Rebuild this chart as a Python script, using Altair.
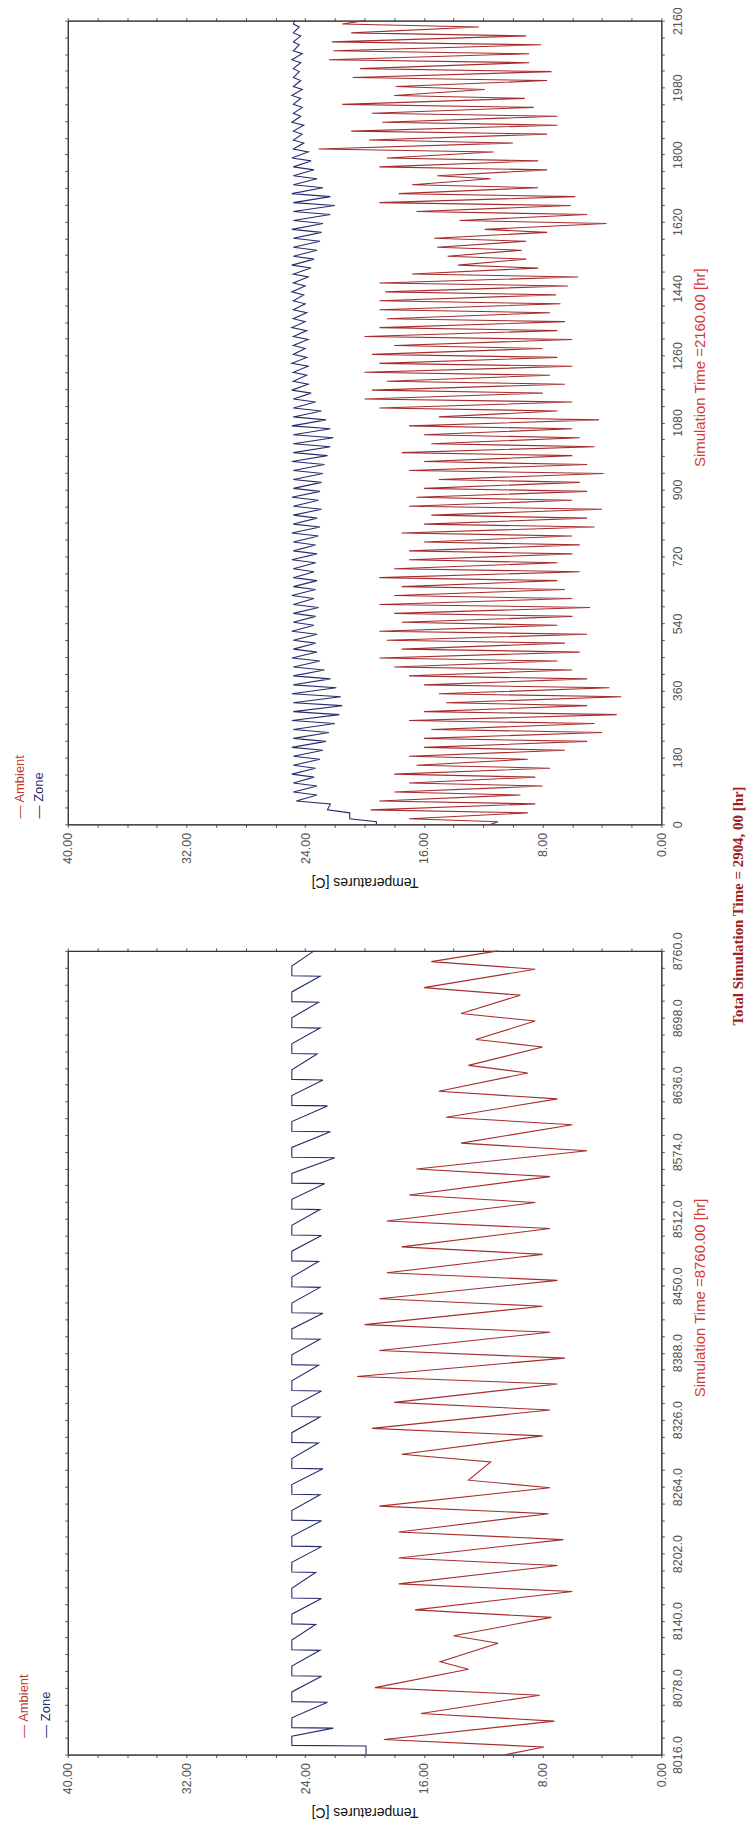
import altair as alt
import pandas as pd

# ---------------- data ----------------
# Panel 1: simulation hours 0 .. 2160 (90 days); daily cold trough / warm peak
amb1_start = 11.5
amb1_min = [11.0, 9.0, 8.5, 9.5, 8.0, 8.5, 7.5, 9.0, 6.5, 5.0,
            4.0, 4.5, 3.0, 5.0, 2.7, 3.5, 5.0, 6.0, 7.0, 5.5,
            6.5, 5.0, 7.0, 6.0, 4.8, 6.0, 6.5, 7.0, 5.5, 7.0,
            6.0, 5.5, 6.0, 4.5, 5.0, 4.0, 6.0, 5.0, 5.5, 3.9,
            5.0, 6.0, 4.5, 5.5, 6.0, 4.2, 7.0, 6.0, 8.0, 6.5,
            7.5, 6.0, 7.0, 8.0, 6.0, 7.0, 6.5, 7.5, 6.8, 7.1,
            6.3, 5.6, 8.3, 9.1, 9.4, 9.1, 7.7, 3.7, 5.0, 6.1,
            5.8, 8.3, 11.5, 7.7, 8.3, 11.3, 10.0, 7.7, 7.0, 7.0,
            8.6, 9.2, 11.9, 7.7, 7.4, 8.9, 8.9, 8.1, 9.1, 12.3]
amb1_max = [17.0, 19.6, 19.0, 18.0, 17.0, 18.0, 16.5, 17.0, 16.0, 16.0,
            15.5, 17.0, 16.0, 14.5, 15.0, 16.0, 17.0, 18.0, 19.0, 17.5,
            18.5, 19.0, 17.5, 18.0, 19.0, 18.0, 17.5, 19.0, 18.0, 17.0,
            17.0, 16.0, 17.5, 16.0, 15.5, 17.0, 16.5, 16.0, 15.0, 17.0,
            16.0, 17.5, 15.5, 16.0, 17.0, 15.0, 19.0, 20.0, 19.5, 18.5,
            20.0, 19.0, 19.5, 18.0, 20.0, 19.0, 18.5, 19.0, 19.0, 18.6,
            19.0, 16.8, 13.7, 14.4, 15.1, 15.3, 11.9, 13.6, 16.5, 19.0,
            17.7, 16.8, 15.1, 19.0, 18.5, 23.1, 19.7, 20.9, 18.8, 19.5,
            21.5, 18.0, 17.9, 20.8, 20.3, 22.4, 22.1, 22.2, 20.9, 21.5]
amb1_end = 20.0

zone1_start = 19.2
zone1_min = [19.2, 21.0, 22.3, 23.2, 23.2, 23.4, 23.3, 23.0, 22.8, 22.6,
             22.4, 22.0, 21.7, 21.5, 21.6, 21.9, 22.3, 22.7, 23.0, 23.2,
             23.3, 23.2, 23.4, 23.3, 23.1, 23.4, 23.3, 23.2, 23.4, 23.3,
             23.2, 23.3, 23.1, 23.0, 23.2, 22.9, 23.1, 23.0, 22.9, 22.8,
             22.7, 22.5, 22.3, 22.1, 22.3, 22.6, 22.9, 23.3, 23.6, 23.8,
             23.9, 23.8, 23.9, 24.0, 23.8, 23.9, 24.0, 23.9, 24.0, 24.1,
             24.0, 23.8, 23.6, 23.4, 23.2, 23.0, 22.9, 22.8, 22.3, 22.0,
             22.3, 22.8, 23.2, 23.4, 23.6, 23.8, 24.1, 24.2, 24.1, 24.3,
             24.2, 24.3, 24.2, 24.3, 24.4, 24.3, 24.2, 24.4, 24.3, 24.4]
zone1_max = [21.0, 22.5, 24.6, 24.8, 24.8, 24.9, 24.8, 24.8, 24.9, 24.8,
             24.8, 24.9, 24.8, 24.8, 24.9, 24.8, 24.8, 24.8, 24.9, 24.8,
             24.8, 24.9, 24.8, 24.8, 24.8, 24.9, 24.8, 24.8, 24.8, 24.9,
             24.8, 24.8, 24.9, 24.8, 24.8, 24.8, 24.9, 24.8, 24.8, 24.8,
             24.9, 24.8, 24.8, 24.8, 24.9, 24.8, 24.8, 24.8, 24.9, 24.8,
             24.8, 24.9, 24.8, 24.8, 24.8, 24.9, 24.8, 24.8, 24.8, 24.9,
             24.8, 24.8, 24.9, 24.8, 24.8, 24.8, 24.9, 24.8, 24.8, 24.8,
             24.9, 24.8, 24.8, 24.8, 24.9, 24.8, 24.8, 24.8, 24.9, 24.8,
             24.8, 24.9, 24.8, 24.8, 24.8, 24.9, 24.8, 24.8, 24.8, 24.8]
zone1_end = 24.7

# Panel 2: simulation hours 8016 .. 8760 (31 days)
amb2_start = 10.5
amb2_min = [7.9, 7.2, 8.2, 13.0, 11.0, 7.4, 6.0, 7.0, 6.6, 7.6,
            7.5, 11.5, 8.0, 7.5, 7.0, 6.5, 7.5, 8.0, 7.0, 8.0,
            7.5, 8.5, 7.5, 5.0, 6.0, 7.0, 9.0, 8.0, 8.5, 9.5, 8.5]
amb2_max = [18.7, 16.2, 19.3, 14.9, 14.0, 16.6, 17.7, 17.7, 17.7, 19.0,
            13.0, 17.5, 19.5, 18.0, 20.5, 19.0, 20.0, 19.0, 18.5, 17.5,
            18.5, 17.0, 16.5, 13.5, 14.5, 15.0, 13.0, 12.5, 13.5, 16.0, 15.5]
amb2_end = 11.0

zone2_start = 19.9          # initial value held until the first switch-on
zone2_min = [22.1, 22.5, 22.9, 23.0, 23.3, 22.9, 23.3, 22.9, 22.9, 23.0,
             22.8, 23.1, 23.0, 22.9, 23.1, 23.0, 22.8, 23.0, 23.1, 22.9,
             23.0, 22.7, 22.0, 22.3, 22.5, 22.8, 23.2, 23.0, 23.1, 23.0]
zone2_max = [24.9] * 31
zone2_end = 23.4

# axis ticks
temp_ticks = list(range(0, 41, 2))                   # labelled every 8
time1_ticks = list(range(0, 2161, 45))               # labelled every 180
time2_ticks = [8016 + 15.5 * k for k in range(49)]   # labelled every 62

RED = "#a52d2d"
BLUE = "#262c6e"
TITLE_RED = "#d23a36"
TOTAL_RED = "#9c1f24"
FONT = "Liberation Sans"


def daily(t0, start, lows, highs, end, t_end, lo_h, hi_h):
    rows = [{"t": t0, "v": start}]
    for d, (lo, hi) in enumerate(zip(lows, highs)):
        rows.append({"t": t0 + 24 * d + lo_h, "v": lo})
        rows.append({"t": t0 + 24 * d + hi_h, "v": hi})
    rows.append({"t": t_end, "v": end})
    return pd.DataFrame(rows)


def sawtooth(t0, start, lows, highs, end, t_end):
    # hold start value, switch on, hold set-point, then free-float down until next switch-on
    rows = [{"t": t0, "v": start}, {"t": t0 + 8, "v": start},
            {"t": t0 + 8.5, "v": highs[0]}, {"t": t0 + 17, "v": highs[0]}]
    for d, lo in enumerate(lows, start=1):
        rows.append({"t": t0 + 24 * d + 0.5, "v": lo})
        rows.append({"t": t0 + 24 * d + 1.0, "v": highs[d]})
        rows.append({"t": t0 + 24 * d + 10, "v": highs[d]})
    rows.append({"t": t_end, "v": end})
    return pd.DataFrame(rows)


amb1 = daily(0, amb1_start, amb1_min, amb1_max, amb1_end, 2160, 7, 15)
zone1 = daily(0, zone1_start, zone1_min, zone1_max, zone1_end, 2160, 7, 15)
amb2 = daily(8016, amb2_start, amb2_min, amb2_max, amb2_end, 8760, 7, 14)
zone2 = sawtooth(8016, zone2_start, zone2_min, zone2_max, zone2_end, 8760)

W, H = 596, 807


def text_layer(s, x, y, color, size=13, font=FONT, weight="normal", align="left"):
    return alt.Chart(pd.DataFrame({"s": [s]})).mark_text(
        angle=270, align=align, baseline="middle", fontSize=size, font=font,
        fontWeight=weight, color=color).encode(x=alt.value(x), y=alt.value(y), text="s:N")


def panel(amb, zone, tdom, tticks, lexpr, sim_title, title_y, leg_x, leg_y, extra=()):
    xs = alt.Scale(domain=[0, 40], reverse=True, nice=False, zero=False)
    ys = alt.Scale(domain=tdom, nice=False, zero=False)
    x_main = alt.Axis(orient="bottom", values=temp_ticks,
                      labelExpr="datum.value % 8 == 0 ? format(datum.value, '.2f') : ''",
                      labelAngle=270, labelAlign="right", labelBaseline="middle",
                      labelOverlap=False, labelFlush=False, tickSize=3, labelPadding=5,
                      grid=False, title="Temperatures [C]", titleAngle=180,
                      titleX=W / 2, titleY=57, titleAlign="center", titleBaseline="middle",
                      titleFontSize=14, titleFontWeight="normal", titleColor="#111",
                      titleFont=FONT)
    y_main = alt.Axis(orient="right", values=tticks, labelExpr=lexpr,
                      labelAngle=270, labelAlign="center", labelBaseline="top",
                      labelOverlap=False, labelFlush=False, tickSize=3, labelPadding=7,
                      grid=False, title=sim_title, titleAngle=270, titleX=38,
                      titleY=title_y, titleAlign="center", titleBaseline="middle",
                      titleFontSize=15, titleFontWeight="normal", titleColor=TITLE_RED,
                      titleFont=FONT)
    x_top = alt.Axis(orient="top", values=temp_ticks, labels=False, tickSize=3,
                     grid=False, title=None)
    y_left = alt.Axis(orient="left", values=tticks, labels=False, tickSize=3,
                      grid=False, title=None)
    a = alt.Chart(amb).mark_line(color=RED, strokeWidth=1.1).encode(
        x=alt.X("v:Q", scale=xs, axis=x_main),
        y=alt.Y("t:Q", scale=ys, axis=y_main),
        order="t:Q")
    z = alt.Chart(zone).mark_line(color=BLUE, strokeWidth=1.1).encode(
        x=alt.X("v:Q", scale=xs, axis=x_top),
        y=alt.Y("t:Q", scale=ys, axis=y_left),
        order="t:Q")
    texts = [text_layer("— Ambient", leg_x[0], leg_y, "#c0392b"),
             text_layer("— Zone", leg_x[1], leg_y, BLUE)] + list(extra)
    return alt.layer(a, z, *texts).resolve_axis(x="independent", y="independent").properties(
        width=W, height=H)


total = text_layer("Total Simulation Time = 2904, 00 [hr]", 673, 889, TOTAL_RED,
                   size=15, font="Liberation Serif", weight="bold", align="center")

top = panel(amb1, zone1, [0, 2160], time1_ticks,
            "datum.value % 180 == 0 ? format(datum.value, 'd') : ''",
            "Simulation Time =2160.00 [hr]", 348, (-48, -29), 801, extra=[total])
bottom = panel(amb2, zone2, [8016, 8760], time2_ticks,
               "(datum.value - 8016) % 62 == 0 ? format(datum.value, '.1f') : ''",
               "Simulation Time =8760.00 [hr]", 348, (-44, -22), 790)

chart = alt.vconcat(top, bottom, spacing=127, bounds="flush").properties(
    padding={"left": 5, "top": -6, "right": 0, "bottom": 0}
).configure_view(stroke="#333", strokeWidth=1).configure_axis(
    labelFont=FONT, labelFontSize=12.5, labelColor="#555",
    domainColor="#333", tickColor="#555")

chart.save("out.html", embed_options={"renderer": "svg", "actions": False})
